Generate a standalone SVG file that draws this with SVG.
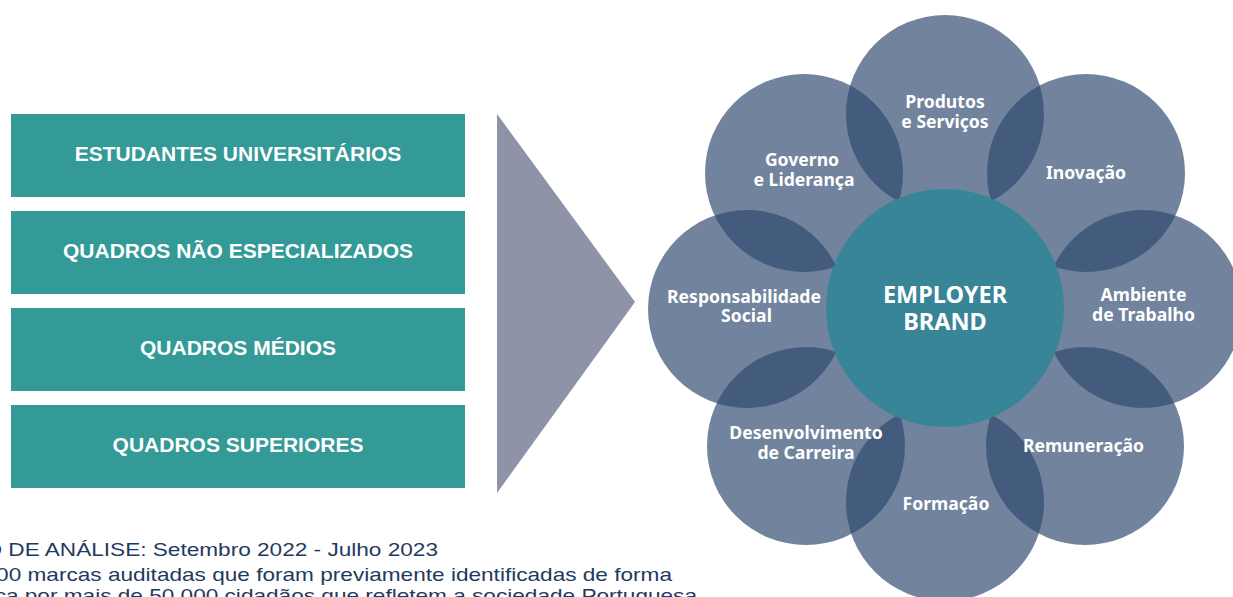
<svg xmlns="http://www.w3.org/2000/svg" width="1233" height="597" viewBox="0 0 1233 597">
<style>
.box{fill:#339a98}
.bt{font-family:"Liberation Sans",Arial,sans-serif;font-weight:bold;font-size:21px;fill:#fff;text-anchor:middle}
.oc{fill:#2e486e;fill-opacity:0.68}
.lbl{font-family:"Noto Sans","DejaVu Sans",sans-serif;font-weight:bold;font-size:17.6px;fill:#fff;text-anchor:middle}
.ctr{font-family:"Noto Sans","DejaVu Sans",sans-serif;font-weight:bold;font-size:23.5px;fill:#fff;text-anchor:middle}
.note{font-family:"Liberation Sans",Arial,sans-serif;font-size:19px;fill:#1f3a5f;text-anchor:end}
</style>
<rect width="1233" height="597" fill="#fff"/>
<g id="box1"><rect class="box" x="11" y="114" width="454" height="83"/><text class="bt" x="238" y="161">ESTUDANTES UNIVERSITÁRIOS</text></g>
<g id="box2"><rect class="box" x="11" y="211" width="454" height="83"/><text class="bt" x="238" y="258">QUADROS NÃO ESPECIALIZADOS</text></g>
<g id="box3"><rect class="box" x="11" y="308" width="454" height="83"/><text class="bt" x="238" y="355">QUADROS MÉDIOS</text></g>
<g id="box4"><rect class="box" x="11" y="405" width="454" height="83"/><text class="bt" x="238" y="452">QUADROS SUPERIORES</text></g>
<g id="arrow"><polygon points="497,114 635,302 497,493" fill="#8e93a8"/></g>
<g id="petals">
<g id="produtos"><circle class="oc" cx="945" cy="114" r="99"/></g>
<g id="governo"><circle class="oc" cx="804" cy="173" r="99"/></g>
<g id="inovacao"><circle class="oc" cx="1086" cy="173" r="99"/></g>
<g id="responsabilidade"><circle class="oc" cx="747" cy="309" r="99"/></g>
<g id="ambiente"><circle class="oc" cx="1143" cy="309" r="99"/></g>
<g id="desenvolvimento"><circle class="oc" cx="806" cy="446" r="99"/></g>
<g id="remuneracao"><circle class="oc" cx="1085" cy="446" r="99"/></g>
<g id="formacao"><circle class="oc" cx="945" cy="502" r="99"/></g>
</g>
<g id="employer"><circle cx="945" cy="308" r="119" fill="#378597"/>
<text class="ctr" x="945" y="303">EMPLOYER</text><text class="ctr" x="945" y="330">BRAND</text></g>
<g id="labels">
<text class="lbl" x="945" y="108">Produtos</text><text class="lbl" x="945" y="127.5">e Serviços</text>
<text class="lbl" x="802" y="166">Governo</text><text class="lbl" x="804" y="185.5">e Liderança</text>
<text class="lbl" x="1086" y="179">Inovação</text>
<text class="lbl" x="744" y="302.5">Responsabilidade</text><text class="lbl" x="746.5" y="322">Social</text>
<text class="lbl" x="1143.5" y="301">Ambiente</text><text class="lbl" x="1143.5" y="320.5">de Trabalho</text>
<text class="lbl" x="806" y="439">Desenvolvimento</text><text class="lbl" x="806" y="458.5">de Carreira</text>
<text class="lbl" x="1083.5" y="452">Remuneração</text>
<text class="lbl" x="946" y="510">Formação</text>
</g>
<g id="notes">
<text class="note" transform="translate(438,555.5) scale(1.19,1)">O DE ANÁLISE: Setembro 2022 - Julho 2023</text>
<text class="note" transform="translate(672,580.5) scale(1.19,1)">00 marcas auditadas que foram previamente identificadas de forma</text>
<text class="note" transform="translate(697,601.5) scale(1.19,1)">ca por mais de 50.000 cidadãos que refletem a sociedade Portuguesa</text>
</g>
</svg>
